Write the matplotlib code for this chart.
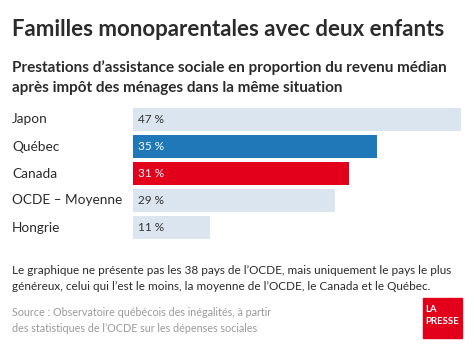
import matplotlib
matplotlib.use("Agg")
import matplotlib.pyplot as plt
from matplotlib.patches import Rectangle

plt.rcParams["font.family"] = ["Lato", "DejaVu Sans"]

categories = ["Japon", "Québec", "Canada", "OCDE – Moyenne", "Hongrie"]
values = [47, 35, 31, 29, 11]
value_labels = ["47 %", "35 %", "31 %", "29 %", "11 %"]
bar_colors = ["#dae5ef", "#1f78b8", "#e2001a", "#dae5ef", "#dae5ef"]
text_colors = ["#333333", "white", "white", "#333333", "#333333"]

W, H = 474, 353
fig = plt.figure(figsize=(W / 100, H / 100), dpi=100)
fig.patch.set_facecolor("white")
renderer = fig.canvas.get_renderer()


def fx(px):
    return px / W


def fy(py):
    return 1 - py / H


def fit(t, width_px):
    # scale font so the text spans the width seen in the reference
    w = t.get_window_extent(renderer).width
    t.set_fontsize(t.get_fontsize() * width_px / w)
    return t.get_fontsize()


dark = "#2b2b2b"
t = fig.text(fx(12), fy(30), "Familles monoparentales avec deux enfants",
             fontsize=16, fontweight="bold", color=dark, va="center")
fit(t, 433)
t = fig.text(fx(12), fy(68), "Prestations d’assistance sociale en proportion du revenu médian",
             fontsize=11, fontweight="bold", color=dark, va="center")
sub = fit(t, 433)
fig.text(fx(12), fy(88), "après impôt des ménages dans la même situation",
         fontsize=sub, fontweight="bold", color=dark, va="center")

ax = fig.add_axes([fx(133), fy(241), fx(461) - fx(133), fy(106) - fy(241)])
ypos = list(range(len(categories)))
ax.barh(ypos, values, height=0.85, color=bar_colors)
ax.set_xlim(0, 47)
ax.set_ylim(len(categories) - 0.5, -0.5)
ax.axis("off")

t = fig.text(fx(12), fy(200), categories[3], fontsize=10, color=dark)
cat_size = fit(t, 110)
t.remove()
t = fig.text(fx(138), fy(200), value_labels[0], fontsize=9, color=dark)
val_size = fit(t, 26)
t.remove()
for y, lab, tc, cat in zip(ypos, value_labels, text_colors, categories):
    ax.text(0.75, y, lab, color=tc, fontsize=val_size, va="center", ha="left")
    fig.text(fx(12), fy(119.5 + 27 * y), cat, fontsize=cat_size, color=dark, va="center")

t = fig.text(fx(12), fy(270), "Le graphique ne présente pas les 38 pays de l’OCDE, mais uniquement le pays le plus",
             fontsize=9, color=dark, va="center")
note = fit(t, 441)
fig.text(fx(12), fy(287), "généreux, celui qui l’est le moins, la moyenne de l’OCDE, le Canada et le Québec.",
         fontsize=note, color=dark, va="center")
t = fig.text(fx(12), fy(313), "Source : Observatoire québécois des inégalités, à partir",
             fontsize=9, color="#9a9a9a", va="center")
src = fit(t, 260)
fig.text(fx(12), fy(329), "des statistiques de l’OCDE sur les dépenses sociales",
         fontsize=src, color="#9a9a9a", va="center")

fig.patches.append(Rectangle((fx(423), fy(338)), fx(462) - fx(423), fy(298) - fy(338),
                             transform=fig.transFigure, color="#e2001a"))
t = fig.text(fx(425.5), fy(322), "PRESSE", fontsize=7.5, fontweight="bold", color="white", va="center")
logo = fit(t, 34)
fig.text(fx(425.5), fy(310), "LA", fontsize=logo, fontweight="bold", color="white", va="center")

fig.savefig("out.png", dpi=100)
